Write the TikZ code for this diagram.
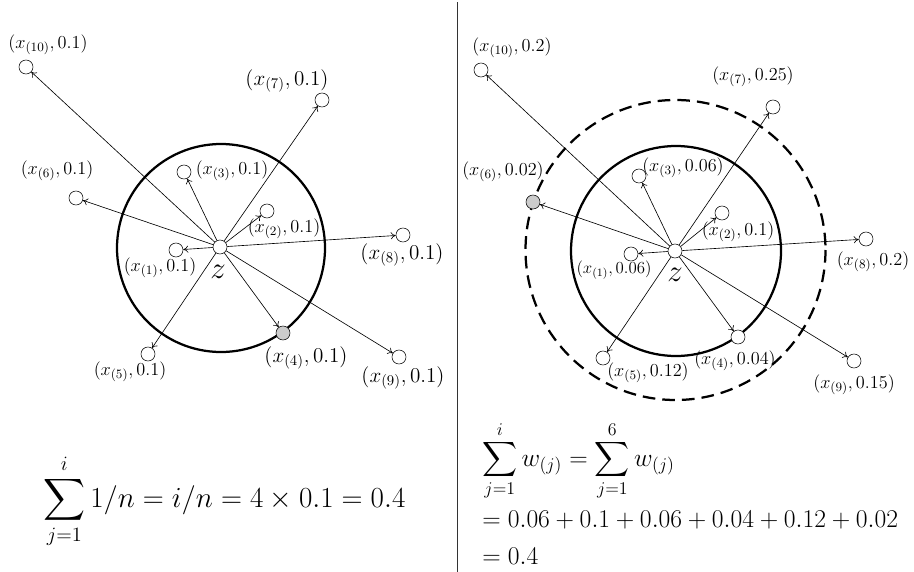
\RequirePackage{fix-cm}
\documentclass[tikz,border=0pt]{standalone}
\usepackage{amsmath}
\usepackage{tikz}
\usetikzlibrary{arrows.meta, positioning}
\tikzset{
  obs/.style={circle, draw, fill=white, inner sep=0pt, minimum size=0.35cm},
  hit/.style={obs, fill=black!20},
  lbl/.style={inner sep=0pt, font=\fontsize{13}{15}\selectfont},
  biglbl/.style={inner sep=0pt, font=\fontsize{15}{18}\selectfont},
  smalllbl/.style={inner sep=0pt, font=\fontsize{12}{14}\selectfont},
  ring/.style={draw, line width=1.6pt},
  outring/.style={ring, dash pattern=on 9pt off 5pt},
  arr/.style={-{To[length=3.5pt, width=5pt]}, line width=0.45pt},
  sumtext/.style={inner sep=0pt, anchor=base west, font=\fontsize{18.2}{22}\selectfont},
}
\begin{document}
\begin{tikzpicture}[x=0.025cm, y=-0.025cm]
  \useasboundingbox (0,0) rectangle (914,572);
  % divider
  \draw[black!80, line width=0.6pt] (457,2) -- (457,572);

  % ---- left panel: equal weights ----
  \draw[ring] (221,248) circle (104);
  \node[obs] (az) at (220,247) {};
  \node[obs] (a1) at (176,250) {};
  \node[obs] (a2) at (267,211) {};
  \node[obs] (a3) at (184,172) {};
  \node[hit] (a4) at (283,333) {};
  \node[obs] (a5) at (148,354) {};
  \node[obs] (a6) at (76,198) {};
  \node[obs] (a7) at (322,100) {};
  \node[obs] (a8) at (403,235) {};
  \node[obs] (a9) at (399,357) {};
  \node[obs] (a10) at (26,67) {};
  \foreach \k in {1,...,10}
    \draw[arr] (az) -- (a\k);

  \node[inner sep=0pt, font=\fontsize{22}{26}\selectfont] (lz) at (218,272) {$z$};
  \node[lbl] (la1) at (160,268) {$(x_{(1)},0.1)$};
  \node[lbl] (la2) at (284,229) {$(x_{(2)},0.1)$};
  \node[lbl] (la3) at (232,171) {$(x_{(3)},0.1)$};
  \node[biglbl] (la4) at (306,358) {$(x_{(4)},0.1)$};
  \node[lbl] (la5) at (130,372) {$(x_{(5)},0.1)$};
  \node[lbl] (la6) at (57,171) {$(x_{(6)},0.1)$};
  \node[biglbl] (la7) at (287,81) {$(x_{(7)},0.1)$};
  \node[biglbl] (la8) at (402,255) {$(x_{(8)},0.1)$};
  \node[biglbl] (la9) at (403,378) {$(x_{(9)},0.1)$};
  \node[lbl] (la10) at (48,45) {$(x_{(10)},0.1)$};

  \node[sumtext, font=\fontsize{20.7}{25}\selectfont] (lsum) at (43,507)
    {$\displaystyle\sum_{j=1}^{i} 1/n = i/n = 4\times 0.1 = 0.4$};

  % ---- right panel: weighted ----
  \draw[outring] (675.5,250) circle (150);
  \draw[ring] (676,251) circle (105);
  \node[obs] (bz) at (675,251) {};
  \node[obs] (b1) at (631,254) {};
  \node[obs] (b2) at (722,213) {};
  \node[obs] (b3) at (639,176) {};
  \node[obs] (b4) at (738,337) {};
  \node[obs] (b5) at (603,358) {};
  \node[hit] (b6) at (533,202) {};
  \node[obs] (b7) at (773,107) {};
  \node[obs] (b8) at (866,239) {};
  \node[obs] (b9) at (854,361) {};
  \node[obs] (b10) at (481,70) {};
  \foreach \k in {1,...,10}
    \draw[arr] (bz) -- (b\k);

  \node[inner sep=0pt, font=\fontsize{22}{26}\selectfont] (rz) at (675,275) {$z$};
  \node[smalllbl] (lb1) at (614,270) {$(x_{(1)},0.06)$};
  \node[lbl] (lb2) at (738,232) {$(x_{(2)},0.1)$};
  \node[lbl] (lb3) at (683,168) {$(x_{(3)},0.06)$};
  \node[lbl] (lb4) at (735,361) {$(x_{(4)},0.04)$};
  \node[lbl] (lb5) at (648,373) {$(x_{(5)},0.12)$};
  \node[lbl] (lb6) at (503,172) {$(x_{(6)},0.02)$};
  \node[lbl] (lb7) at (753,77) {$(x_{(7)},0.25)$};
  \node[lbl] (lb8) at (873,262) {$(x_{(8)},0.2)$};
  \node[lbl] (lb9) at (854,385) {$(x_{(9)},0.15)$};
  \node[lbl] (lb10) at (512,48) {$(x_{(10)},0.2)$};

  \node[sumtext] (rsum1) at (482,466)
    {$\displaystyle\sum_{j=1}^{i} w_{(j)} = \sum_{j=1}^{6} w_{(j)}$};
  \node[sumtext] (rsum2) at (482,527)
    {$=0.06+0.1+0.06+0.04+0.12+0.02$};
  \node[sumtext] (rsum3) at (482,564) {$=0.4$};
\end{tikzpicture}
\end{document}
